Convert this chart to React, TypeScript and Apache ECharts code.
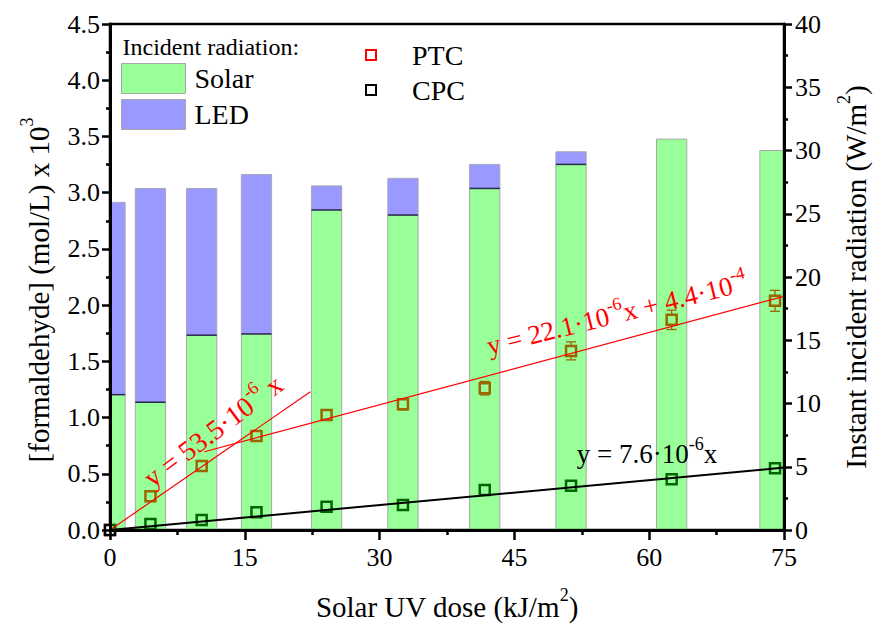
import React, { useEffect, useRef } from "react";
import * as echarts from "echarts";

// ---- data ----
const xTicks = [0, 15, 30, 45, 60, 75];
const leftTicks = [0, 0.5, 1.0, 1.5, 2.0, 2.5, 3.0, 3.5, 4.0, 4.5];
const rightTicks = [0, 5, 10, 15, 20, 25, 30, 35, 40];

const dose = [0, 4.5, 10.2, 16.3, 24.1, 32.6, 41.7, 51.3, 62.5, 74.0];
const solarRad = [10.7, 10.1, 15.4, 15.5, 25.3, 24.9, 27.0, 28.9, 30.9, 30.0];
const ledRad = [15.2, 16.9, 11.6, 12.6, 1.9, 2.9, 1.9, 1.0, 0, 0];

const ptc = [0, 0.3, 0.57, 0.837, 1.023, 1.118, 1.261, 1.593, 1.869, 2.038];
const ptcErr = [0, 0.015, 0.04, 0.04, 0.04, 0.05, 0.06, 0.08, 0.086, 0.093];
const cpc = [0, 0.053, 0.089, 0.157, 0.207, 0.222, 0.356, 0.394, 0.451, 0.549];
const cpcErr = [0, 0.015, 0.015, 0.015, 0.015, 0.015, 0.015, 0.015, 0.015, 0.015];

const fitSteep = [[0, 0], [22.3, 1.23]];
const fitPTC = [[10.5, 0.696], [75, 2.078]];
const fitCPC = [[0, 0], [75, 0.555]];

const FONT = "Liberation Serif";
const BAR_W = 3.37; // bar width in dose units
const SOLAR_COLOR = "rgba(0,255,0,0.4)";
const LED_COLOR = "rgba(0,0,255,0.4)";

const supRich = (size: number, supSize: number, color: string) => ({
  a: { fontFamily: FONT, fontSize: size, color, lineHeight: Math.round(size * 1.4) },
  s: { fontFamily: FONT, fontSize: supSize, color, lineHeight: supSize + 2, verticalAlign: "top" },
});

export default function App() {
  const ref = useRef<HTMLDivElement>(null);

  useEffect(() => {
    if (!ref.current) return;
    const chart = echarts.init(ref.current, undefined, { renderer: "svg" });

    const clipTo = (params: any, r: any) =>
      echarts.graphic.clipRectByRect(r, {
        x: params.coordSys.x,
        y: params.coordSys.y,
        width: params.coordSys.width,
        height: params.coordSys.height,
      });

    const errRender = (color: string) => (params: any, api: any) => {
      const x = api.value(0);
      const y = api.value(1);
      const e = api.value(2);
      if (!e) return null;
      const lo = api.coord([x, y - e]);
      const hi = api.coord([x, y + e]);
      const hw = 5;
      const st = { stroke: color, lineWidth: 1.3 };
      return {
        type: "group",
        children: [
          { type: "line", shape: { x1: lo[0], y1: lo[1], x2: hi[0], y2: hi[1] }, style: st },
          { type: "line", shape: { x1: lo[0] - hw, y1: lo[1], x2: lo[0] + hw, y2: lo[1] }, style: st },
          { type: "line", shape: { x1: hi[0] - hw, y1: hi[1], x2: hi[0] + hw, y2: hi[1] }, style: st },
        ],
      };
    };

    const solarData = dose.map((d, i) => [d, solarRad[i]]);
    const ledData = dose.map((d, i) => [d, solarRad[i], ledRad[i]]);
    const ptcData = dose.map((d, i) => [d, ptc[i]]);
    const cpcData = dose.map((d, i) => [d, cpc[i]]);
    const ptcErrData = dose.map((d, i) => [d, ptc[i], ptcErr[i]]);
    const cpcErrData = dose.map((d, i) => [d, cpc[i], cpcErr[i]]);

    const axisLine = { show: true, lineStyle: { color: "#000", width: 3 } };
    const tickStyle = { color: "#000", width: 2.5 };
    const labelStyle = { fontFamily: FONT, fontSize: 26, color: "#000" };
    const nameStyle = { fontFamily: FONT, fontSize: 29, color: "#000", rich: supRich(29, 18, "#000") };

    const option: any = {
      animation: false,
      backgroundColor: "#fff",
      textStyle: { fontFamily: FONT },
      grid: {
        left: 110,
        right: 86,
        top: 24,
        bottom: 98,
        show: true,
        borderColor: "#000",
        borderWidth: 2.5,
        backgroundColor: "transparent",
      },
      legend: [
        {
          data: ["Solar", "LED"],
          orient: "vertical",
          left: 121,
          top: 63,
          padding: 0,
          icon: "rect",
          itemWidth: 64,
          itemHeight: 30,
          itemGap: 5,
          itemStyle: { borderWidth: 1, borderColor: "#a8a8a8" },
          textStyle: { fontFamily: FONT, fontSize: 28, color: "#000", lineHeight: 30, padding: [0, 0, 0, 4] },
          selectedMode: false,
        },
        {
          data: ["PTC", "CPC"],
          orient: "vertical",
          left: 365,
          top: 40,
          padding: 0,
          itemWidth: 10,
          itemHeight: 10,
          itemGap: 5,
          itemStyle: { borderWidth: 2 },
          textStyle: { fontFamily: FONT, fontSize: 28, color: "#000", lineHeight: 30, padding: [0, 0, 0, 31] },
          selectedMode: false,
        },
      ],
      xAxis: {
        type: "value",
        min: xTicks[0],
        max: xTicks[xTicks.length - 1],
        interval: xTicks[1] - xTicks[0],
        z: 10,
        axisLine,
        axisTick: { show: true, inside: false, length: 10, lineStyle: tickStyle },
        minorTick: { show: true, splitNumber: 2, length: 5, lineStyle: tickStyle },
        splitLine: { show: false },
        axisLabel: { ...labelStyle, margin: 14 },
        name: "{a|Solar UV dose (kJ/m}{s|2}{a|)}",
        nameLocation: "middle",
        nameGap: 56,
        nameTextStyle: nameStyle,
      },
      yAxis: [
        {
          type: "value",
          position: "left",
          min: leftTicks[0],
          max: leftTicks[leftTicks.length - 1],
          interval: leftTicks[1] - leftTicks[0],
          z: 10,
          axisLine,
          axisTick: { show: true, inside: false, length: 8, lineStyle: tickStyle },
          minorTick: { show: true, splitNumber: 2, length: 4, lineStyle: tickStyle },
          splitLine: { show: false },
          axisLabel: { ...labelStyle, margin: 10, formatter: (v: number) => v.toFixed(1) },
          name: "{a|[formaldehyde] (mol/L) x 10}{s|3}",
          nameLocation: "middle",
          nameRotate: 90,
          nameGap: 51,
          nameTextStyle: { ...nameStyle, padding: [0, 26, 0, 0] },
        },
        {
          type: "value",
          position: "right",
          min: rightTicks[0],
          max: rightTicks[rightTicks.length - 1],
          interval: rightTicks[1] - rightTicks[0],
          z: 10,
          axisLine,
          axisTick: { show: true, inside: false, length: 8, lineStyle: tickStyle },
          minorTick: { show: true, splitNumber: 2, length: 4, lineStyle: tickStyle },
          splitLine: { show: false },
          axisLabel: { ...labelStyle, margin: 11 },
          name: "{a|Instant incident radiation (W/m}{s|2}{a|)}",
          nameLocation: "middle",
          nameRotate: 90,
          nameGap: 51,
          nameTextStyle: nameStyle,
        },
      ],
      series: [
        {
          name: "PTC",
          type: "scatter",
          yAxisIndex: 0,
          z: 2,
          symbol: "rect",
          symbolSize: 10,
          itemStyle: { color: "#fff", borderColor: "#ff0000", borderWidth: 2.5, opacity: 1 },
          data: ptcData,
        },
        {
          name: "CPC",
          type: "scatter",
          yAxisIndex: 0,
          z: 2,
          symbol: "rect",
          symbolSize: 10,
          itemStyle: { color: "#fff", borderColor: "#000", borderWidth: 2.5, opacity: 1 },
          data: cpcData,
        },
        {
          name: "PTC err",
          type: "custom",
          yAxisIndex: 0,
          z: 2,
          encode: { x: 0, y: 1 },
          renderItem: errRender("#ff0000"),
          data: ptcErrData,
        },
        {
          name: "CPC err",
          type: "custom",
          yAxisIndex: 0,
          z: 2,
          encode: { x: 0, y: 1 },
          renderItem: errRender("#000"),
          data: cpcErrData,
        },
        {
          name: "Solar",
          type: "custom",
          yAxisIndex: 1,
          z: 3,
          encode: { x: 0, y: 1 },
          itemStyle: { color: SOLAR_COLOR, borderColor: "#a8a8a8", borderWidth: 1 },
          renderItem: (params: any, api: any) => {
            const x = api.value(0);
            const v = api.value(1);
            const w = api.size([BAR_W, 0])[0];
            const p0 = api.coord([x, 0]);
            const p1 = api.coord([x, v]);
            const r = clipTo(params, { x: p0[0] - w / 2, y: p1[1], width: w, height: p0[1] - p1[1] });
            if (!r) return null;
            return {
              type: "rect",
              shape: r,
              style: { fill: SOLAR_COLOR, stroke: "#a8a8a8", lineWidth: 1 },
            };
          },
          data: solarData,
        },
        {
          name: "LED",
          type: "custom",
          yAxisIndex: 1,
          z: 3,
          encode: { x: 0, y: 1 },
          itemStyle: { color: LED_COLOR, borderColor: "#a8a8a8", borderWidth: 1 },
          renderItem: (params: any, api: any) => {
            const x = api.value(0);
            const s = api.value(1);
            const l = api.value(2);
            if (!l) return null;
            const w = api.size([BAR_W, 0])[0];
            const p0 = api.coord([x, s]);
            const p1 = api.coord([x, s + l]);
            const r = clipTo(params, { x: p0[0] - w / 2, y: p1[1], width: w, height: p0[1] - p1[1] });
            if (!r) return null;
            return {
              type: "group",
              children: [
                { type: "rect", shape: r, style: { fill: LED_COLOR, stroke: "#a8a8b8", lineWidth: 1 } },
                {
                  type: "line",
                  shape: { x1: r.x, y1: p0[1], x2: r.x + r.width, y2: p0[1] },
                  style: { stroke: "#2a2a50", lineWidth: 1.5 },
                },
              ],
            };
          },
          data: ledData,
        },
        {
          name: "fitSteep",
          type: "line",
          yAxisIndex: 0,
          z: 4,
          symbol: "none",
          lineStyle: { color: "#ff0000", width: 1.2 },
          data: fitSteep,
        },
        {
          name: "fitPTC",
          type: "line",
          yAxisIndex: 0,
          z: 4,
          symbol: "none",
          lineStyle: { color: "#ff0000", width: 1.2 },
          data: fitPTC,
        },
        {
          name: "fitCPC",
          type: "line",
          yAxisIndex: 0,
          z: 4,
          symbol: "none",
          lineStyle: { color: "#000", width: 2 },
          data: fitCPC,
        },
      ],
      graphic: [
        {
          type: "text",
          x: 122.5,
          y: 47,
          z: 10,
          style: {
            text: "Incident radiation:",
            fontFamily: FONT,
            fontSize: 24,
            fill: "#000",
            align: "left",
            verticalAlign: "middle",
          },
        },
        {
          type: "text",
          x: 213,
          y: 431,
          rotation: (37 * Math.PI) / 180,
          z: 10,
          style: {
            text: "{a|y = 53.5·10}{s|-6}{a| x}",
            rich: supRich(28, 18, "#ff0000"),
            fill: "#ff0000",
            align: "center",
            verticalAlign: "middle",
          },
        },
        {
          type: "text",
          x: 617,
          y: 314,
          rotation: (14 * Math.PI) / 180,
          z: 10,
          style: {
            text: "{a|y = 22.1·10}{s|-6}{a|x + 4.4·10}{s|-4}",
            rich: supRich(27, 18, "#ff0000"),
            fill: "#ff0000",
            align: "center",
            verticalAlign: "middle",
          },
        },
        {
          type: "text",
          x: 647,
          y: 454,
          z: 10,
          style: {
            text: "{a|y = 7.6·10}{s|-6}{a|x}",
            rich: supRich(27, 18, "#000"),
            fill: "#000",
            align: "center",
            verticalAlign: "middle",
          },
        },
      ],
    };

    chart.setOption(option);
    return () => chart.dispose();
  }, []);

  return (
    <div
      ref={ref}
      style={{ position: "absolute", left: 0, top: 0, width: 878, height: 628, background: "#fff" }}
    />
  );
}
